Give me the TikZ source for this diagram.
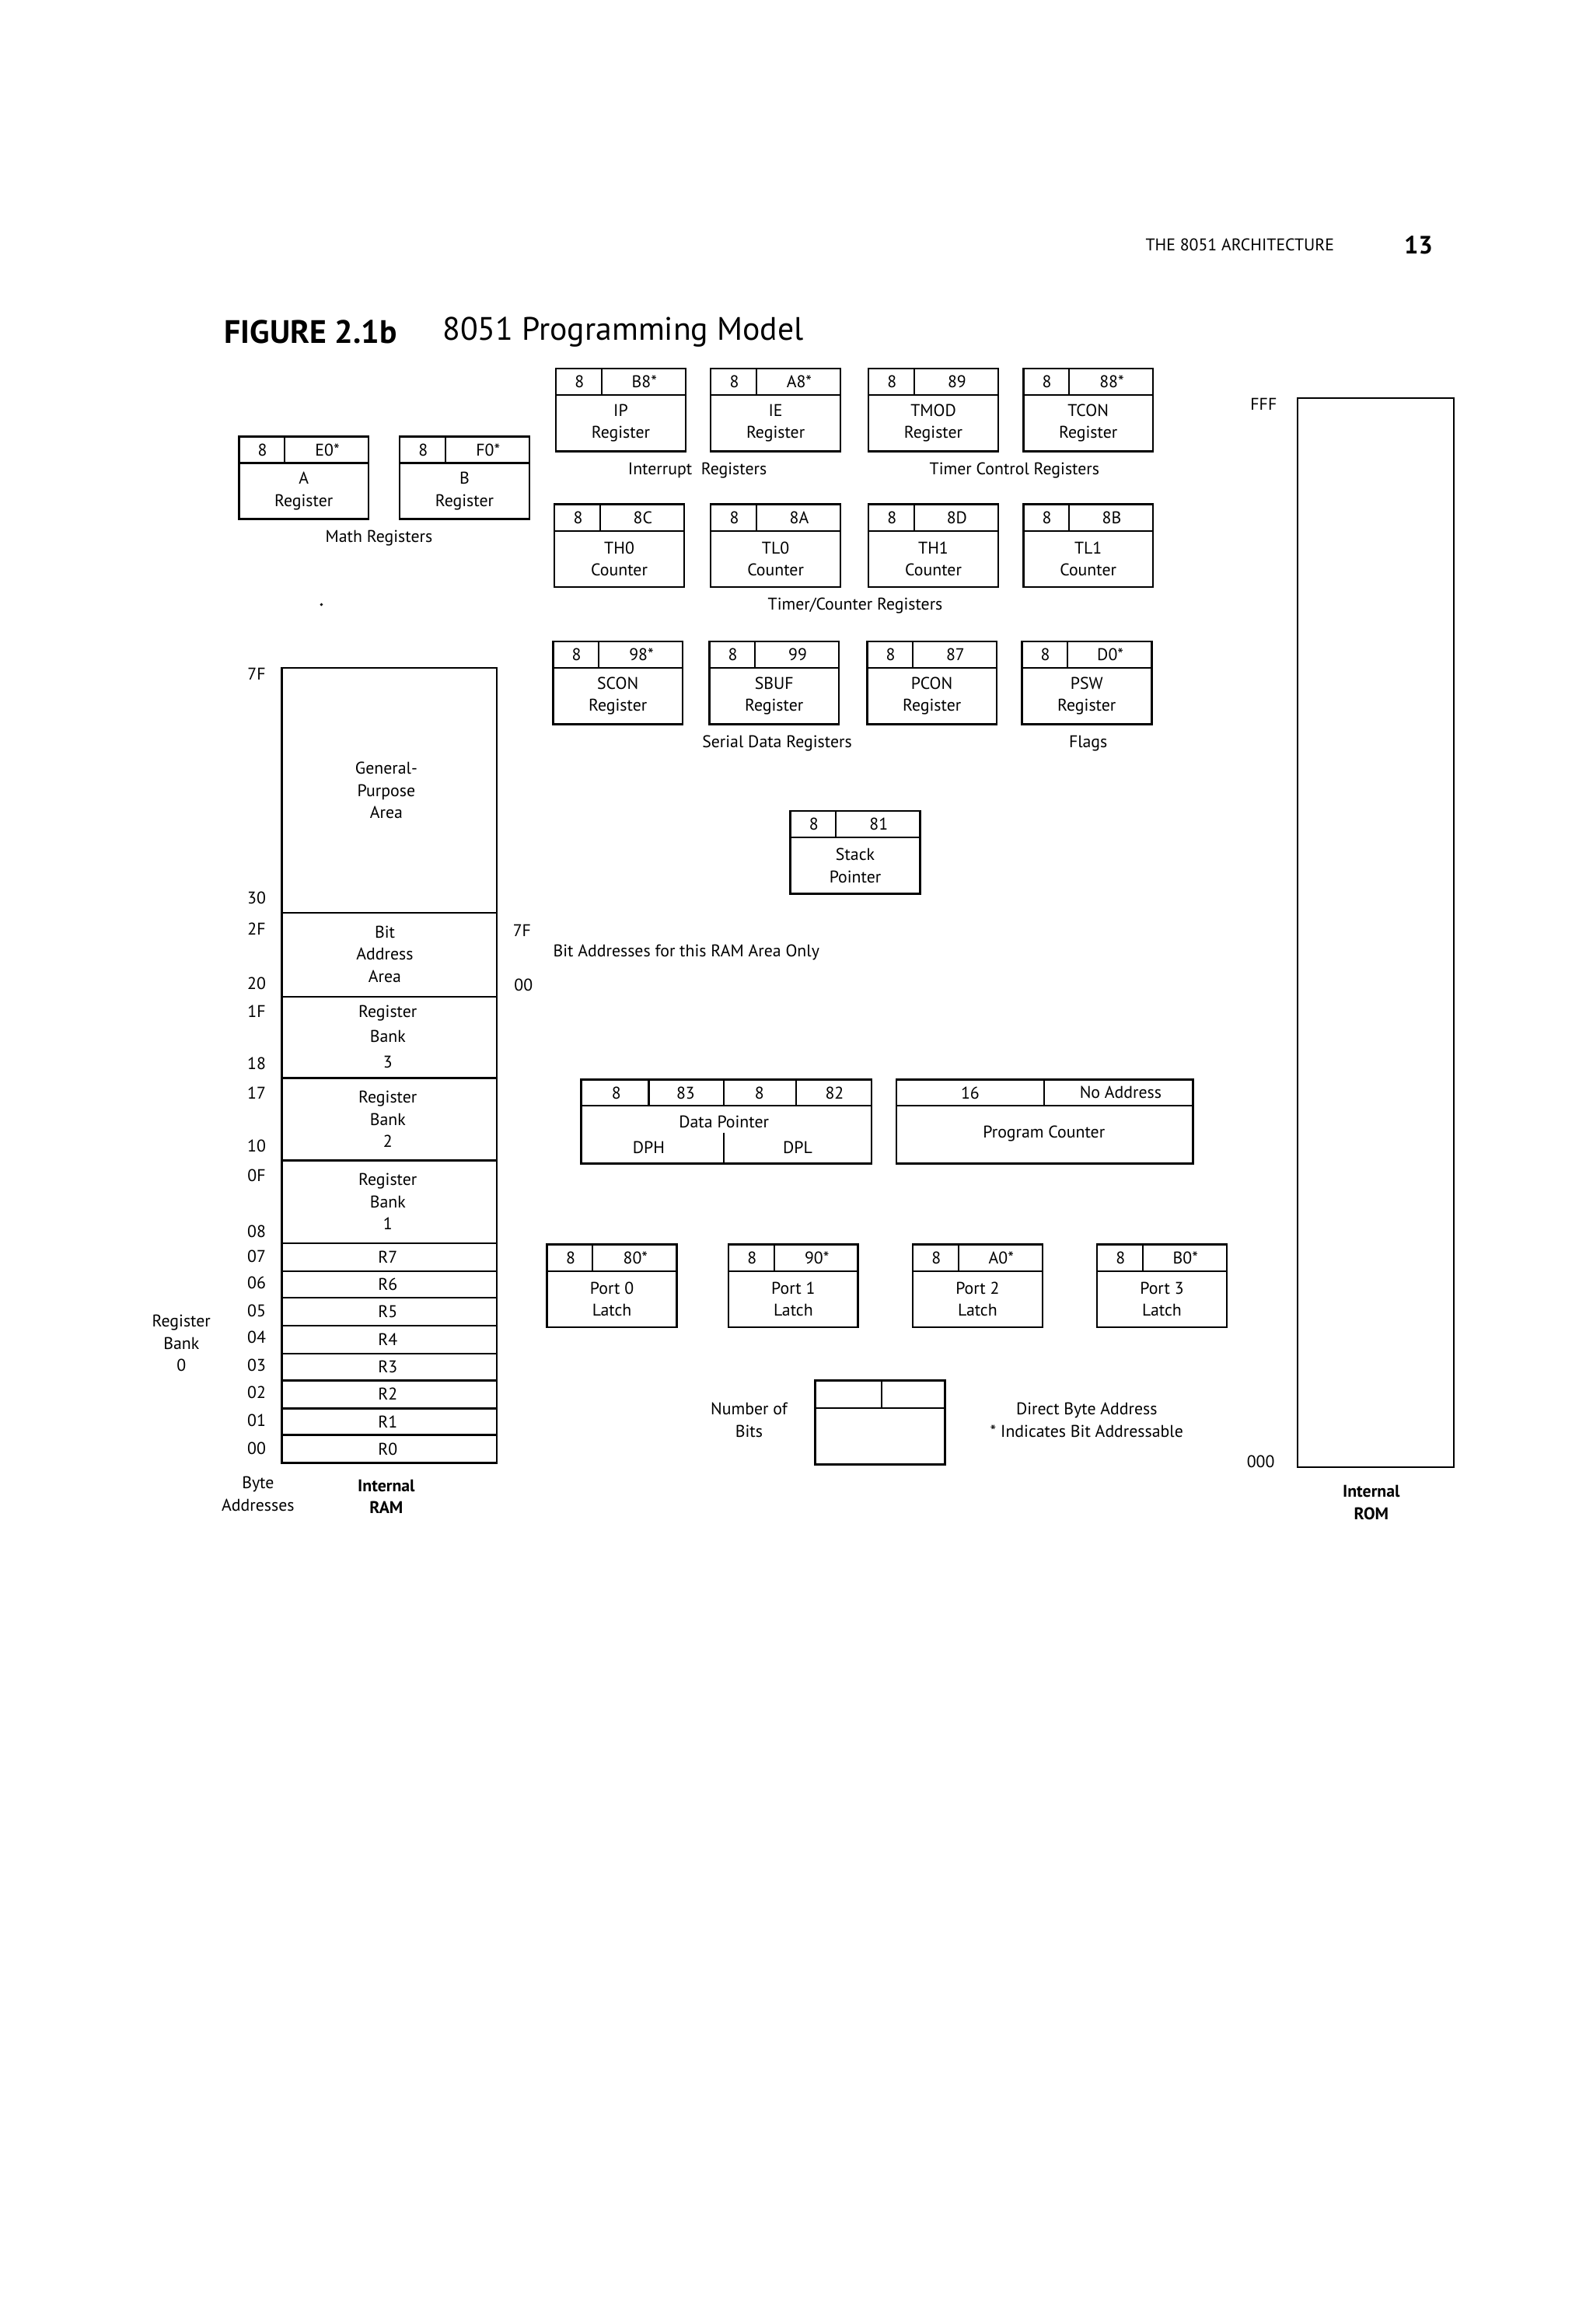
\documentclass[tikz,border=0pt]{standalone}
\usepackage{fontspec}
\setmainfont{PT Sans}
\begin{document}
\begin{tikzpicture}[x=1pt,y=-1pt,
  box/.style={line width=1.4pt},
  thin/.style={line width=1.1pt},
  txt/.style={inner sep=0pt,align=center,font=\fontsize{11.5}{15}\selectfont},
  btxt/.style={inner sep=0pt,align=center,font=\fontsize{11.5}{15}\selectfont\bfseries}]
\useasboundingbox (0,0) rectangle (1080,1576);
\newcommand\regbox[7]{%
  \draw[box] (#2,#3) rectangle ++(88,56);
  \draw[thin] (#2,#3+18) -- ++(88,0);
  \draw[thin] (#2+31,#3) -- ++(0,18);
  \node[txt] (#1l) at (#2+16,#3+9) {#4};
  \node[txt] (#1r) at (#2+60,#3+9) {#5};
  \node[txt] (#1n) at (#2+44,#3+37) {#6\\#7};}
% header
\node[txt,anchor=east] (hdr) at (905,166) {THE 8051 ARCHITECTURE};
\node[inner sep=0pt,font=\fontsize{17}{20}\selectfont\bfseries] (pg) at (962,166) {13};
\node[inner sep=0pt,anchor=west,font=\fontsize{22}{26}\selectfont\bfseries] (fig) at (152,225) {FIGURE 2.1b};
\node[inner sep=0pt,anchor=west,font=\fontsize{22}{26}\selectfont] (title) at (300,225) {8051 Programming Model};
% math registers
\regbox{ra}{162}{296}{8}{E0*}{A}{Register}
\regbox{rb}{271}{296}{8}{F0*}{B}{Register}
\node[txt] (mathc) at (257,365) {Math Registers};
% interrupt / timer control
\regbox{rip}{377}{250}{8}{B8*}{IP}{Register}
\regbox{rie}{482}{250}{8}{A8*}{IE}{Register}
\regbox{rtmod}{589}{250}{8}{89}{TMOD}{Register}
\regbox{rtcon}{694}{250}{8}{88*}{TCON}{Register}
\node[txt] (intc) at (473,319) {Interrupt\ \ Registers};
\node[txt] (tcc) at (688,319) {Timer Control Registers};
% timer counters
\regbox{rth0}{376}{342}{8}{8C}{TH0}{Counter}
\regbox{rtl0}{482}{342}{8}{8A}{TL0}{Counter}
\regbox{rth1}{589}{342}{8}{8D}{TH1}{Counter}
\regbox{rtl1}{694}{342}{8}{8B}{TL1}{Counter}
\node[txt] (tcr) at (580,411) {Timer/Counter Registers};
% serial
\regbox{rscon}{375}{435}{8}{98*}{SCON}{Register}
\regbox{rsbuf}{481}{435}{8}{99}{SBUF}{Register}
\regbox{rpcon}{588}{435}{8}{87}{PCON}{Register}
\regbox{rpsw}{693}{435}{8}{D0*}{PSW}{Register}
\node[txt] (sdr) at (527,504) {Serial Data Registers};
\node[txt] (flg) at (738,504) {Flags};
% stack pointer
\regbox{rsp}{536}{550}{8}{81}{Stack}{Pointer}
\fill (218,410) circle (1pt);
% RAM
\draw[box] (191,453) rectangle (337,992);
\foreach \y in {619,676,731,787,843,862,880,899,918,936,955,973}
  \draw[box] (191,\y) -- (337,\y);
\node[txt] (gp) at (262,536) {General-\\Purpose\\Area};
\node[txt] (ba) at (261,647) {Bit\\Address\\Area};
\node[txt,font=\fontsize{11.5}{17}\selectfont] (rb3) at (263,703) {Register\\Bank\\3};
\node[txt,font=\fontsize{11.5}{15}\selectfont] (rb2) at (263,759) {Register\\Bank\\2};
\node[txt,font=\fontsize{11.5}{15}\selectfont] (rb1) at (263,815) {Register\\Bank\\1};
\foreach \n [count=\i from 0] in {R7,R6,R5,R4,R3,R2,R1,R0}
  \node[txt] (reg\n) at (263,852.5+\i*18.6) {\n};
\foreach \t/\y [count=\i] in {7F/457,30/609,2F/630,20/667,1F/686,18/721,17/741,10/777,0F/797,08/835,07/852,06/870,05/889,04/907,03/926,02/944,01/963,00/982}
  \node[txt] (ad\i) at (174,\y) {\t};
\node[txt] (rb0) at (123,911) {Register\\Bank\\0};
\node[txt] (byad) at (175,1013) {Byte\\Addresses};
\node[btxt] (iram) at (262,1015) {Internal\\RAM};
\node[txt] (b7f) at (354,631) {7F};
\node[txt] (b00) at (355,668) {00};
\node[txt,anchor=west] (bnote) at (375,646) {Bit Addresses for this RAM Area Only};
% data pointer
\draw[box] (394,732) rectangle (591,789);
\draw[thin] (394,750) -- (591,750);
\foreach \x in {440,491,540} \draw[thin] (\x,732) -- (\x,750);
\draw[thin] (491,768) -- (491,789);
\node[txt] (dp1) at (418,741) {8};
\node[txt] (dp2) at (465,741) {83};
\node[txt] (dp3) at (515,741) {8};
\node[txt] (dp4) at (566,741) {82};
\node[txt] (dpn) at (491,761) {Data Pointer};
\node[txt] (dph) at (440,778) {DPH};
\node[txt] (dpl) at (541,778) {DPL};
% program counter
\draw[box] (608,732) rectangle (809,789);
\draw[thin] (608,750) -- (809,750);
\draw[thin] (708,732) -- (708,750);
\node[txt] (pc1) at (658,741) {16};
\node[txt] (pc2) at (760,741) {No Address};
\node[txt] (pcn) at (708,769) {Program Counter};
% ports
\regbox{rp0}{371}{844}{8}{80*}{Port 0}{Latch}
\regbox{rp1}{494}{844}{8}{90*}{Port 1}{Latch}
\regbox{rp2}{619}{844}{8}{A0*}{Port 2}{Latch}
\regbox{rp3}{744}{844}{8}{B0*}{Port 3}{Latch}
% legend
\draw[box] (553,936) rectangle (641,993);
\draw[thin] (553,955) -- (641,955);
\draw[thin] (598,936) -- (598,955);
\node[txt] (nb) at (508,963) {Number of\\Bits};
\node[txt] (dba) at (737,963) {Direct Byte Address\\* Indicates Bit Addressable};
% ROM
\draw[box] (880,270) rectangle (986,995);
\node[txt] (fff) at (857,274) {FFF};
\node[txt] (z000) at (855,991) {000};
\node[btxt] (irom) at (930,1019) {Internal\\ROM};
\end{tikzpicture}
\end{document}
